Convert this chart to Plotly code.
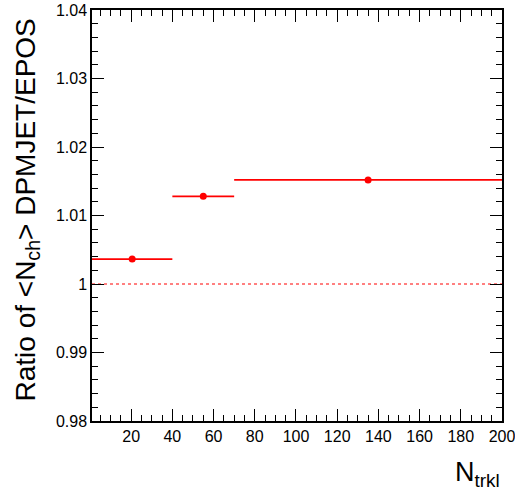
import plotly.graph_objects as go

# Data
bin_low = [1, 40, 70]
bin_high = [40, 70, 200]
ratio = [1.00364, 1.0128, 1.0152]
x_center = [(lo + hi) / 2 for lo, hi in zip(bin_low, bin_high)]
err_minus = [c - lo for c, lo in zip(x_center, bin_low)]
err_plus = [hi - c for c, hi in zip(x_center, bin_high)]

x_range = [1, 200]
y_range = [0.98, 1.04]
x_ticks = [20, 40, 60, 80, 100, 120, 140, 160, 180, 200]
y_ticks = [0.98, 0.99, 1.0, 1.01, 1.02, 1.03, 1.04]
y_ticklabels = ["0.98", "0.99", "1", "1.01", "1.02", "1.03", "1.04"]

fig = go.Figure()

# Reference line at 1
fig.add_trace(go.Scatter(
    x=x_range, y=[1, 1], mode="lines",
    line=dict(color="red", width=1, dash="3px,3px"),
    hoverinfo="skip", showlegend=False))

fig.add_trace(go.Scatter(
    x=x_center, y=ratio, mode="markers",
    marker=dict(color="red", size=7),
    error_x=dict(type="data", symmetric=False, array=err_plus,
                 arrayminus=err_minus, color="red", thickness=1.8, width=0),
    showlegend=False))

axis_font = dict(family="Liberation Sans, Arial, sans-serif", size=16, color="black")

fig.update_layout(
    width=515, height=494,
    margin=dict(l=92, r=13, t=10, b=73, autoexpand=False),
    paper_bgcolor="white", plot_bgcolor="white",
    font=axis_font,
    xaxis=dict(range=x_range, tickvals=x_ticks, ticktext=[str(v) for v in x_ticks],
               ticks="inside", ticklen=12, tickwidth=1, tickcolor="black",
               showline=True, linecolor="black", linewidth=1.5, mirror="allticks",
               showgrid=False, zeroline=False, tickfont=axis_font, automargin=False,
               ticklabeloverflow="allow",
               minor=dict(dtick=5, tick0=0, ticks="inside", ticklen=6,
                          tickcolor="black", tickwidth=1, showgrid=False)),
    yaxis=dict(range=y_range, tickvals=y_ticks, ticktext=y_ticklabels,
               ticks="inside", ticklen=12, tickwidth=1, tickcolor="black",
               showline=True, linecolor="black", linewidth=1.5, mirror="allticks",
               showgrid=False, zeroline=False, tickfont=axis_font, automargin=False,
               ticklabeloverflow="allow",
               minor=dict(dtick=0.002, tick0=0.98, ticks="inside", ticklen=6,
                          tickcolor="black", tickwidth=1, showgrid=False)),
    annotations=[
        dict(text="Ratio of <N<sub>ch</sub>> DPMJET/EPOS", textangle=-90,
             xref="paper", yref="paper", x=0, y=0.5, xshift=-65, yshift=5,
             xanchor="center", yanchor="middle", showarrow=False,
             font=dict(family="Liberation Sans, Arial, sans-serif", size=28, color="black")),
        dict(text="N<sub>trkl</sub>", xref="paper", yref="paper", x=1, y=0,
             xanchor="right", yanchor="top", yshift=-34, showarrow=False,
             font=dict(family="Liberation Sans, Arial, sans-serif", size=27, color="black")),
    ],
)

fig.write_html("out.html", config={"displayModeBar": False},
               post_script="document.body.style.margin='0';")
